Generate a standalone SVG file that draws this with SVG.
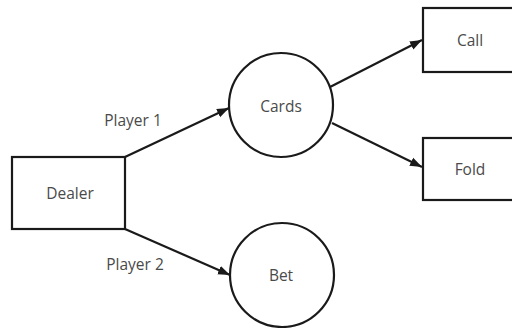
<svg xmlns="http://www.w3.org/2000/svg" width="512" height="328" viewBox="0 0 512 328">
<style>
.node{fill:#fff;stroke:#1a1a1a;stroke-width:2.2}
.lbl{font-family:"Open Sans","Liberation Sans",sans-serif;font-size:15.5px;fill:#4a4a4a;text-anchor:middle}
.edge{stroke:#1a1a1a;stroke-width:2.2;fill:none;marker-end:url(#arr)}
</style>
<defs>
<marker id="arr" markerUnits="userSpaceOnUse" markerWidth="14" markerHeight="10" refX="12" refY="5" orient="auto">
<path d="M0,0.5 L12,5 L0,9.5 Z" fill="#1a1a1a"/>
</marker>
</defs>
<rect width="512" height="328" fill="#fff"/>
<g id="connectors">
<line class="edge" x1="125" y1="157" x2="229" y2="108"/>
<line class="edge" x1="125" y1="229" x2="230" y2="275"/>
<line class="edge" x1="330" y1="87" x2="422" y2="40"/>
<line class="edge" x1="332" y1="123" x2="422" y2="167"/>
<text class="lbl" x="133" y="126">Player 1</text>
<text class="lbl" x="135" y="270">Player 2</text>
</g>
<g id="dealer">
<rect class="node" x="12" y="157" width="113" height="72"/>
<text class="lbl" x="70" y="199">Dealer</text>
</g>
<g id="cards">
<circle class="node" cx="281" cy="105" r="52"/>
<text class="lbl" x="281" y="112">Cards</text>
</g>
<g id="bet">
<circle class="node" cx="282" cy="275" r="52"/>
<text class="lbl" x="281" y="281">Bet</text>
</g>
<g id="call">
<rect class="node" x="423" y="8" width="95" height="64"/>
<text class="lbl" x="470" y="46">Call</text>
</g>
<g id="fold">
<rect class="node" x="423" y="138" width="95" height="62"/>
<text class="lbl" x="470" y="175">Fold</text>
</g>
</svg>
